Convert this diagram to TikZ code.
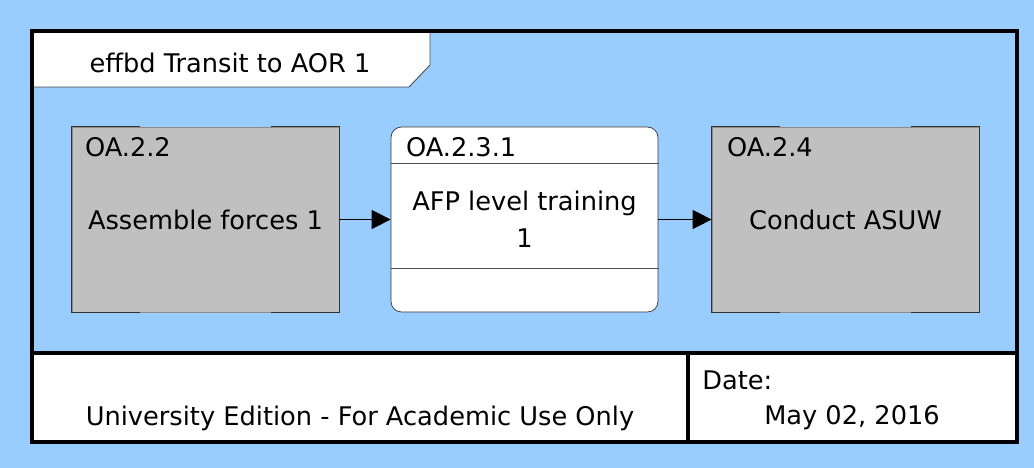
\documentclass[tikz,border=0pt]{standalone}
\usepackage{fontspec}
\setmainfont{DejaVu Sans}
\usetikzlibrary{arrows.meta}
\definecolor{skyback}{HTML}{99CCFF}
\definecolor{boxgray}{HTML}{C0C0C0}
\begin{document}
\begin{tikzpicture}[
    font=\fontsize{14.6}{17}\selectfont,
    frame/.style={line width=2.2pt},
    func/.style={minimum width=5.34cm,minimum height=3.7cm,inner sep=0pt},
    num/.style={anchor=base west,inner sep=0pt},
    flow/.style={-{Triangle[length=0.38cm,width=0.38cm]},line width=0.6pt}]
  \fill[skyback] (0,0) rectangle (20.68,-9.36);
  \fill[white] (0.64,-7.06) rectangle (20.34,-8.84);
  \filldraw[fill=white,draw=black!70,line width=0.5pt]
    (0.64,-0.62) -- (8.6,-0.62) -- (8.6,-1.3) -- (8.18,-1.74) -- (0.64,-1.74) -- cycle;
  \draw[frame] (0.64,-0.62) rectangle (20.34,-8.84);
  \draw[frame] (0.64,-7.06) -- (20.34,-7.06);
  \draw[frame] (13.76,-7.06) -- (13.76,-8.84);
  \node (title) at (4.6,-1.26) {effbd Transit to AOR 1};

  \node[func,fill=boxgray,draw=black!45] (assemble) at (4.11,-4.39) {Assemble forces 1};
  \node[func,fill=white,draw=black!80,rounded corners=6pt,align=center,
    font=\fontsize{14.6}{21}\selectfont] (afp) at (10.49,-4.39) {AFP level training\\1};
  \node[func,fill=boxgray,draw=black!45] (asuw) at (16.91,-4.39) {Conduct ASUW};

  \foreach \n in {assemble,asuw} {
    \draw[black!80] ([xshift=1.36cm]\n.north west) -| (\n.south west) -- ++(1.36,0);
    \draw[black!80] ([xshift=-1.36cm]\n.north east) -| (\n.south east) -- ++(-1.36,0);
  }
  \draw[black!70] ([yshift=-0.74cm]afp.north west) -- ++(5.36,0);
  \draw[black!70] ([yshift=-2.84cm]afp.north west) -- ++(5.36,0);

  \node[num] (assemble-id) at ([xshift=0.26cm,yshift=-0.6cm]assemble.north west) {OA.2.2};
  \node[num] (afp-id) at ([xshift=0.3cm,yshift=-0.6cm]afp.north west) {OA.2.3.1};
  \node[num] (asuw-id) at ([xshift=0.3cm,yshift=-0.6cm]asuw.north west) {OA.2.4};

  \begin{scope}[flow]
    \draw (assemble) -- (afp);
    \draw (afp) -- (asuw);
  \end{scope}

  \node (edition) at (7.2,-8.36) {University Edition - For Academic Use Only};
  \node[anchor=west,inner sep=0pt] (datelbl) at (14.04,-7.6) {Date:};
  \node (date) at (17.04,-8.36) {May 02, 2016};
\end{tikzpicture}
\end{document}
